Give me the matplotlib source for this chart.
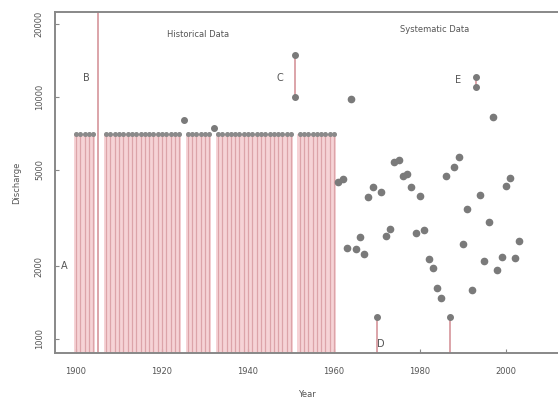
import matplotlib
matplotlib.use("Agg")
import matplotlib.pyplot as plt
import numpy as np

# ---- data ----
hist_threshold = 7000
hist_bar_years = [y for y in range(1900, 1961) if y not in (1905, 1906, 1925, 1932, 1951)]
hist_point_years = [1925, 1932]
hist_point_values = [8000, 7450]

sys_years = [1961, 1962, 1963, 1964, 1965, 1966, 1967, 1968, 1969, 1971, 1972, 1973,
             1974, 1975, 1976, 1977, 1978, 1979, 1980, 1981, 1982, 1983, 1984, 1985,
             1986, 1988, 1989, 1990, 1991, 1992, 1994, 1995, 1996, 1997, 1998, 1999,
             2000, 2001, 2002, 2003]
sys_values = [4470, 4580, 2380, 9800, 2350, 2630, 2240, 3850, 4240, 4060, 2670, 2840,
              5400, 5500, 4690, 4800, 4240, 2735, 3910, 2820, 2140, 1960, 1630, 1475,
              4690, 5120, 5640, 2470, 3440, 1593, 3940, 2090, 3050, 8240, 1930, 2190,
              4300, 4610, 2155, 2550]

# intervals (year, low, high)
interval_years = [1905, 1951, 1970, 1987, 1993]
interval_low = [850, 10000, 850, 850, 11030]
interval_high = [30000, 14900, 1236, 1236, 12050]
interval_show_low_pt = [False, True, False, False, True]
interval_show_high_pt = [False, True, True, True, True]

label_texts = ["A", "B", "C", "D", "E"]
label_x = [1897.3, 1902.5, 1947.5, 1971.0, 1988.8]
label_y = [2000, 12000, 12000, 950, 11700]

x_ticks = [1900, 1920, 1940, 1960, 1980, 2000]
y_ticks = [1000, 2000, 5000, 10000, 20000]

# ---- figure ----
fig = plt.figure(figsize=(5.58, 4.15), dpi=100)
ax = fig.add_axes([55/558, 1-353/415, 1-55/558, (353-12)/415])
ax.set_yscale("log")
ax.set_xlim(1895.1, 2012.1)
ax.set_ylim(875, 22420)

bar_fill = "#f6d3d6"
bar_line = "#dca4a9"
pt_col = "#7a7a7a"

ax.bar(hist_bar_years, [hist_threshold] * len(hist_bar_years), width=1.0,
       bottom=0, color=bar_fill, edgecolor="none", zorder=1)
ax.vlines(hist_bar_years, 875, hist_threshold, colors=bar_line, linewidth=0.9, zorder=2)
ax.plot(hist_bar_years, [hist_threshold] * len(hist_bar_years), linestyle="none",
        marker="o", markersize=2.6, color="#8a8a8a", zorder=3)
ax.plot(hist_point_years, hist_point_values, linestyle="none", marker="o",
        markersize=4, color=pt_col, zorder=3)

for yr, lo, hi, slo, shi in zip(interval_years, interval_low, interval_high,
                                interval_show_low_pt, interval_show_high_pt):
    ax.vlines(yr, lo, hi, colors=bar_line, linewidth=1.4, zorder=2)
    if slo:
        ax.plot([yr], [lo], "o", markersize=4, color=pt_col, zorder=3)
    if shi:
        ax.plot([yr], [hi], "o", markersize=4, color=pt_col, zorder=3)

ax.plot(sys_years, sys_values, linestyle="none", marker="o", markersize=4.5,
        color=pt_col, zorder=3)

txt_col = "#555555"
for t, x, y in zip(label_texts, label_x, label_y):
    ax.text(x, y, t, fontsize=7, color=txt_col, ha="center", va="center")

ax.text(0.285, 0.935, "Historical Data", transform=ax.transAxes, fontsize=6,
        color=txt_col, ha="center", va="center")
ax.text(0.755, 0.95, "Systematic Data", transform=ax.transAxes, fontsize=6,
        color=txt_col, ha="center", va="center")

ax.set_xticks(x_ticks)
ax.set_xticklabels([str(v) for v in x_ticks], fontsize=6, color=txt_col)
ax.set_yticks(y_ticks)
ax.set_yticklabels([str(v) for v in y_ticks], fontsize=6, color=txt_col,
                   rotation=90, va="center")
ax.minorticks_off()
ax.tick_params(direction="in", length=3, color="#888888", pad=10)
ax.tick_params(axis="y", pad=8)

ax.set_xlabel("Year", fontsize=6, color=txt_col, labelpad=10)
ax.set_ylabel("Discharge", fontsize=6, color=txt_col, labelpad=10)

for s in ["left", "bottom", "top"]:
    ax.spines[s].set_color("#888888")
    ax.spines[s].set_linewidth(1.4)
ax.spines["right"].set_visible(False)

fig.savefig("out.png", dpi=100)
